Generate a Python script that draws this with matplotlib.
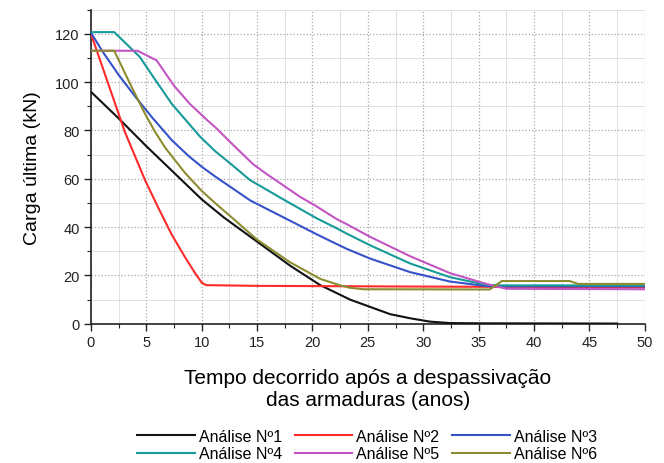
import matplotlib
matplotlib.use("Agg")
import matplotlib.pyplot as plt
from matplotlib.ticker import MultipleLocator

plt.rcParams['font.family'] = ['Liberation Sans', 'DejaVu Sans']

# ---- data ----
x1 = [0, 2.5, 5, 7.5, 10, 12, 15, 18, 20.7, 23.4, 25.2, 27, 28.8, 30.6, 32.4, 35, 47.5]
y1 = [96, 85, 73.5, 62.5, 51.5, 44, 34, 24, 16, 10, 7, 4, 2.3, 0.9, 0.3, 0.2, 0.1]

x2 = [0, 3.07, 4.87, 6.08, 7.28, 8.5, 9.4, 10, 10.4, 15, 30, 50]
y2 = [120, 79.3, 59.6, 48, 37, 27.5, 21, 17, 16, 15.7, 15.4, 15.1]

x3 = [0, 1, 2.5, 4, 5.5, 7.3, 8.8, 10, 11.2, 12.8, 14.4, 15.9, 17.4, 18.9, 20.4, 21.6,
      23.1, 25.2, 28.8, 32.4, 35.7, 37, 50]
y3 = [120.5, 113, 103, 94, 85.5, 76, 69.5, 65, 61, 56, 51, 47.5, 44, 40.5, 37, 34.3,
      31, 27, 21.4, 17.5, 15.6, 15.5, 15.5]

x4 = [0, 2.1, 4.4, 5.5, 7.3, 8.9, 9.84, 11.2, 12.8, 14.35, 15.86, 17.36, 18.86, 20.4, 22.2, 23.1,
      25.2, 28.8, 32.4, 35.7, 37, 50]
y4 = [120.7, 120.7, 110.5, 103, 91, 82.5, 77.5, 71.5, 65.5, 59.5, 55.5, 51.5, 47.6, 43.6, 39.5, 37.3,
      32.5, 25, 19.3, 16.1, 15.9, 15.9]

x5 = [0, 4.2, 5.93, 7.5, 8.93, 10.44, 11.3, 12.84, 14.65, 15.86, 17.36, 18.86, 20.4, 22.2, 23.1,
      25.2, 28.8, 32.4, 35.7, 37.5, 50]
y5 = [113, 113, 109, 98.5, 91, 84.5, 81, 74, 66, 62, 57.3, 52.6, 48.5, 43.3, 41.2,
      36, 28, 21, 16.5, 14.5, 14.3]

x6 = [0, 2.1, 3.67, 4.87, 5.78, 6.68, 8.48, 10, 11.2, 12.84, 14.95, 17.96, 20.7, 22.5, 23.4, 24.6,
      36, 37.1, 43.2, 44, 50]
y6 = [113, 113, 98, 87, 79.5, 73, 62.5, 55, 50, 43.5, 35, 25.5, 18.6, 15.9, 14.9, 14.3,
      14.2, 17.7, 17.7, 16.5, 16.5]

labels = ["Análise Nº1", "Análise Nº2", "Análise Nº3", "Análise Nº4", "Análise Nº5", "Análise Nº6"]
colors = ["#111111", "#ff2a2a", "#3552c8", "#169a9a", "#c255c2", "#8c8c30"]
series = [(x1, y1), (x2, y2), (x3, y3), (x4, y4), (x5, y5), (x6, y6)]

fig = plt.figure(figsize=(6.64, 4.64), dpi=100)
ax = fig.add_axes([0.137, 0.30, 0.834, 0.677])

handles = []
for (xs, ys), c, lab in zip(series, colors, labels):
    h, = ax.plot(xs, ys, color=c, lw=1.5, label=lab, zorder=3,
                 solid_joinstyle='round')
    handles.append(h)

ax.set_xlim(0, 50)
ax.set_ylim(0, 130)
ax.xaxis.set_major_locator(MultipleLocator(5))
ax.xaxis.set_minor_locator(MultipleLocator(2.5))
ax.yaxis.set_major_locator(MultipleLocator(20))
ax.yaxis.set_minor_locator(MultipleLocator(10))
ax.set_yticks([0, 20, 40, 60, 80, 100, 120])

ax.grid(which='major', color='#a8a8a8', ls=':', lw=0.9)
ax.grid(which='minor', color='#dcdcdc', ls='-', lw=0.6)
ax.set_axisbelow(True)

for s in ['top', 'right']:
    ax.spines[s].set_visible(False)
for s in ['left', 'bottom']:
    ax.spines[s].set_linewidth(1.2)
    ax.spines[s].set_color('#222222')

ax.tick_params(which='major', direction='out', length=5, width=1, labelsize=10.5,
               colors='#222222', pad=3)
ax.tick_params(which='minor', direction='out', length=3, width=0.8, colors='#222222')

ax.set_ylabel("Carga última (kN)", fontsize=14, labelpad=10)
ax.set_xlabel("Tempo decorrido após a despassivação\ndas armaduras (anos)", fontsize=15, labelpad=14,
              linespacing=1.2)

order = [0, 3, 1, 4, 2, 5]
fig.legend([handles[i] for i in order], [labels[i] for i in order], ncol=3, frameon=False,
           loc='lower center', bbox_to_anchor=(0.553, -0.027), fontsize=11.5,
           handlelength=3.6, handletextpad=0.25, columnspacing=0.8, labelspacing=0.15)

fig.savefig("out.png", dpi=100)
